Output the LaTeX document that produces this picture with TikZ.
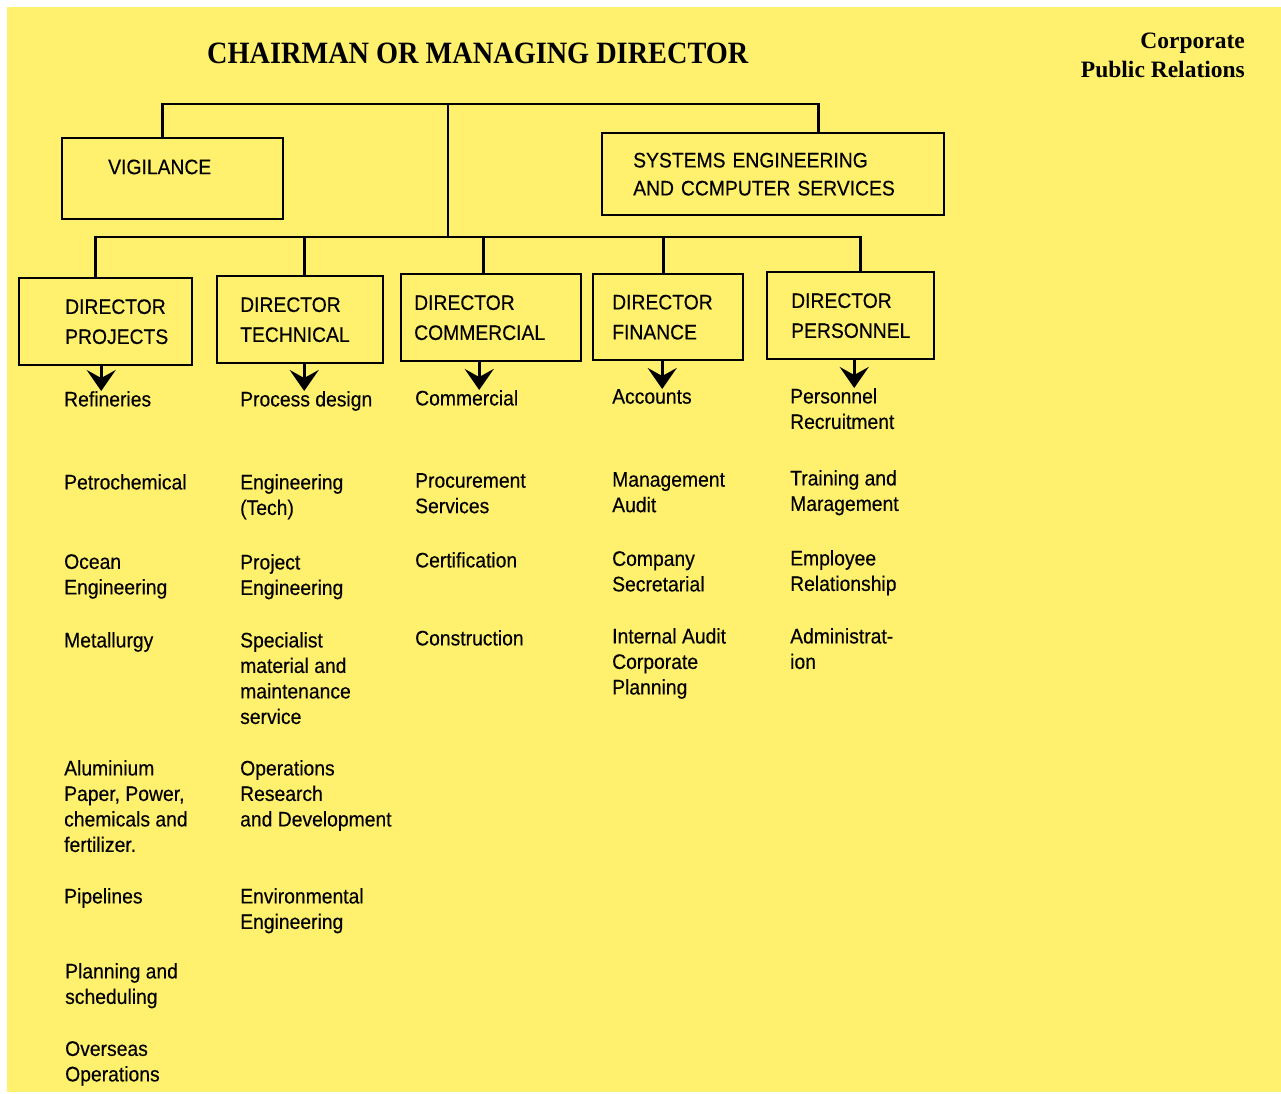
\documentclass[tikz,border=0pt]{standalone}
\usepackage{fontspec}
\setmainfont{Liberation Serif}
\newfontfamily\boxfont[FakeStretch=0.92, FakeBold=0.3]{Liberation Sans}
\newfontfamily\titlefont[FakeStretch=0.913]{Liberation Serif}
\usetikzlibrary{arrows.meta}
\definecolor{paper}{RGB}{255,240,110}

\begin{document}
\begin{tikzpicture}[x=1pt, y=-1pt]
	% 定义样式
	\tikzstyle{box} = [draw, line width=2.4pt, anchor=north west, align=left, inner ysep=0pt, minimum height=87pt, font=\boxfont\fontsize{21}{30}\selectfont]
	\tikzstyle{item} = [anchor=north west, inner sep=0pt, align=left, font=\boxfont\fontsize{21}{25.5}\selectfont]
	\tikzstyle{line} = [line width=2.8pt]
	\tikzstyle{arrow} = [line width=2.8pt, -{Stealth[length=21pt, width=29pt, inset=8pt]}]
	
	% 背景
	\useasboundingbox (0,0) rectangle (1281,1093);
	\fill[paper] (7,7) rectangle (1281,1092);
	
	% 标题
	\node[anchor=base west, inner sep=0pt, font=\titlefont\bfseries\fontsize{31}{31}\selectfont] (chair) at (207,63) {CHAIRMAN OR MANAGING DIRECTOR};
	\node[anchor=north east, align=right, inner sep=0pt, font=\bfseries\fontsize{23.5}{29}\selectfont] (cpr) at (1245,33) {Corporate\\Public Relations};
	
	% 方框
	\node[box, text width=129pt, inner xsep=46pt, minimum height=81pt, text height=36pt, text depth=45pt] (vig) at (61,137) {VIGILANCE};
	\node[box, text width=280pt, inner xsep=31pt, minimum height=82pt, font=\boxfont\fontsize{21}{28}\selectfont] (sys) at (601,132) {SYSTEMS ENGINEERING\\AND CCMPUTER SERVICES};
	\node[box, text width=81pt, inner xsep=46pt] (dproj) at (18,277) {DIRECTOR\\PROJECTS};
	\node[box, text width=120pt, inner xsep=23pt] (dtech) at (216,275) {DIRECTOR\\TECHNICAL};
	\node[box, text width=154pt, inner xsep=13pt] (dcomm) at (400,273) {DIRECTOR\\COMMERCIAL};
	\node[box, text width=112pt, inner xsep=19pt, minimum height=86pt] (dfin) at (592,273) {DIRECTOR\\FINANCE};
	\node[box, text width=119pt, inner xsep=24pt] (dpers) at (766,271) {DIRECTOR\\PERSONNEL};
	
	% 下属部门
	\node[item] (refin) at (64,391) {Refineries};
	\node[item] (petro) at (64,474) {Petrochemical};
	\node[item] (ocean) at (64,554) {Ocean\\Engineering};
	\node[item] (metal) at (64,632) {Metallurgy};
	\node[item] (alum) at (64,760) {Aluminium\\Paper, Power,\\chemicals and\\fertilizer.};
	\node[item] (pipe) at (64,888) {Pipelines};
	\node[item] (plan) at (65,963) {Planning and\\scheduling};
	\node[item] (overseas) at (65,1041) {Overseas\\Operations};
	
	\node[item] (procdes) at (240,391) {Process design};
	\node[item] (engtech) at (240,474) {Engineering\\(Tech)};
	\node[item] (projeng) at (240,554) {Project\\Engineering};
	\node[item] (special) at (240,632) {Specialist\\material and\\maintenance\\service};
	\node[item] (opres) at (240,760) {Operations\\Research\\and Development};
	\node[item] (environ) at (240,888) {Environmental\\Engineering};
	
	\node[item] (comm) at (415,390) {Commercial};
	\node[item] (procure) at (415,473) {Procurement\\Services};
	\node[item] (certif) at (415,552) {Certification};
	\node[item] (constr) at (415,630) {Construction};
	
	\node[item] (accts) at (612,389) {Accounts};
	\node[item] (mgmtaud) at (612,472) {Management\\Audit};
	\node[item] (compsec) at (612,551) {Company\\Secretarial};
	\node[item] (intaud) at (612,628) {Internal Audit\\Corporate\\Planning};
	
	\node[item] (persrec) at (790,388) {Personnel\\Recruitment};
	\node[item] (training) at (790,470) {Training and\\Maragement};
	\node[item] (employee) at (790,550) {Employee\\Relationship};
	\node[item] (admin) at (790,628) {Administrat-\\ion};
	
	% 连线
	\coordinate (hub) at (448,104);
	\coordinate (hub2) at (448,237);
	\draw[line] ([xshift=-10.5pt]vig.north) |- (hub) -| ([xshift=45pt]sys.north);
	\draw[line] (hub) -- (hub2);
	\draw[line] ([xshift=-10.5pt]dproj.north) |- (hub2) -| ([xshift=9.5pt]dpers.north);
	\draw[line] ([xshift=4pt]dtech.north) -- ([xshift=4pt]dtech.north |- hub2);
	\draw[line] ([xshift=-8pt]dcomm.north) -- ([xshift=-8pt]dcomm.north |- hub2);
	\draw[line] ([xshift=-5pt]dfin.north) -- ([xshift=-5pt]dfin.north |- hub2);
	
	\draw[arrow] ([xshift=-4.5pt]dproj.south) -- ([xshift=-4.5pt]dproj.south |- refin.north);
	\draw[arrow] ([xshift=4pt]dtech.south) -- ([xshift=4pt]dtech.south |- procdes.north);
	\draw[arrow] ([xshift=-12pt]dcomm.south) -- ([xshift=-12pt]dcomm.south |- comm.north);
	\draw[arrow] ([xshift=-6pt]dfin.south) -- ([xshift=-6pt]dfin.south |- accts.north);
	\draw[arrow] ([xshift=3.5pt]dpers.south) -- ([xshift=3.5pt]dpers.south |- persrec.north);
\end{tikzpicture}
\end{document}
